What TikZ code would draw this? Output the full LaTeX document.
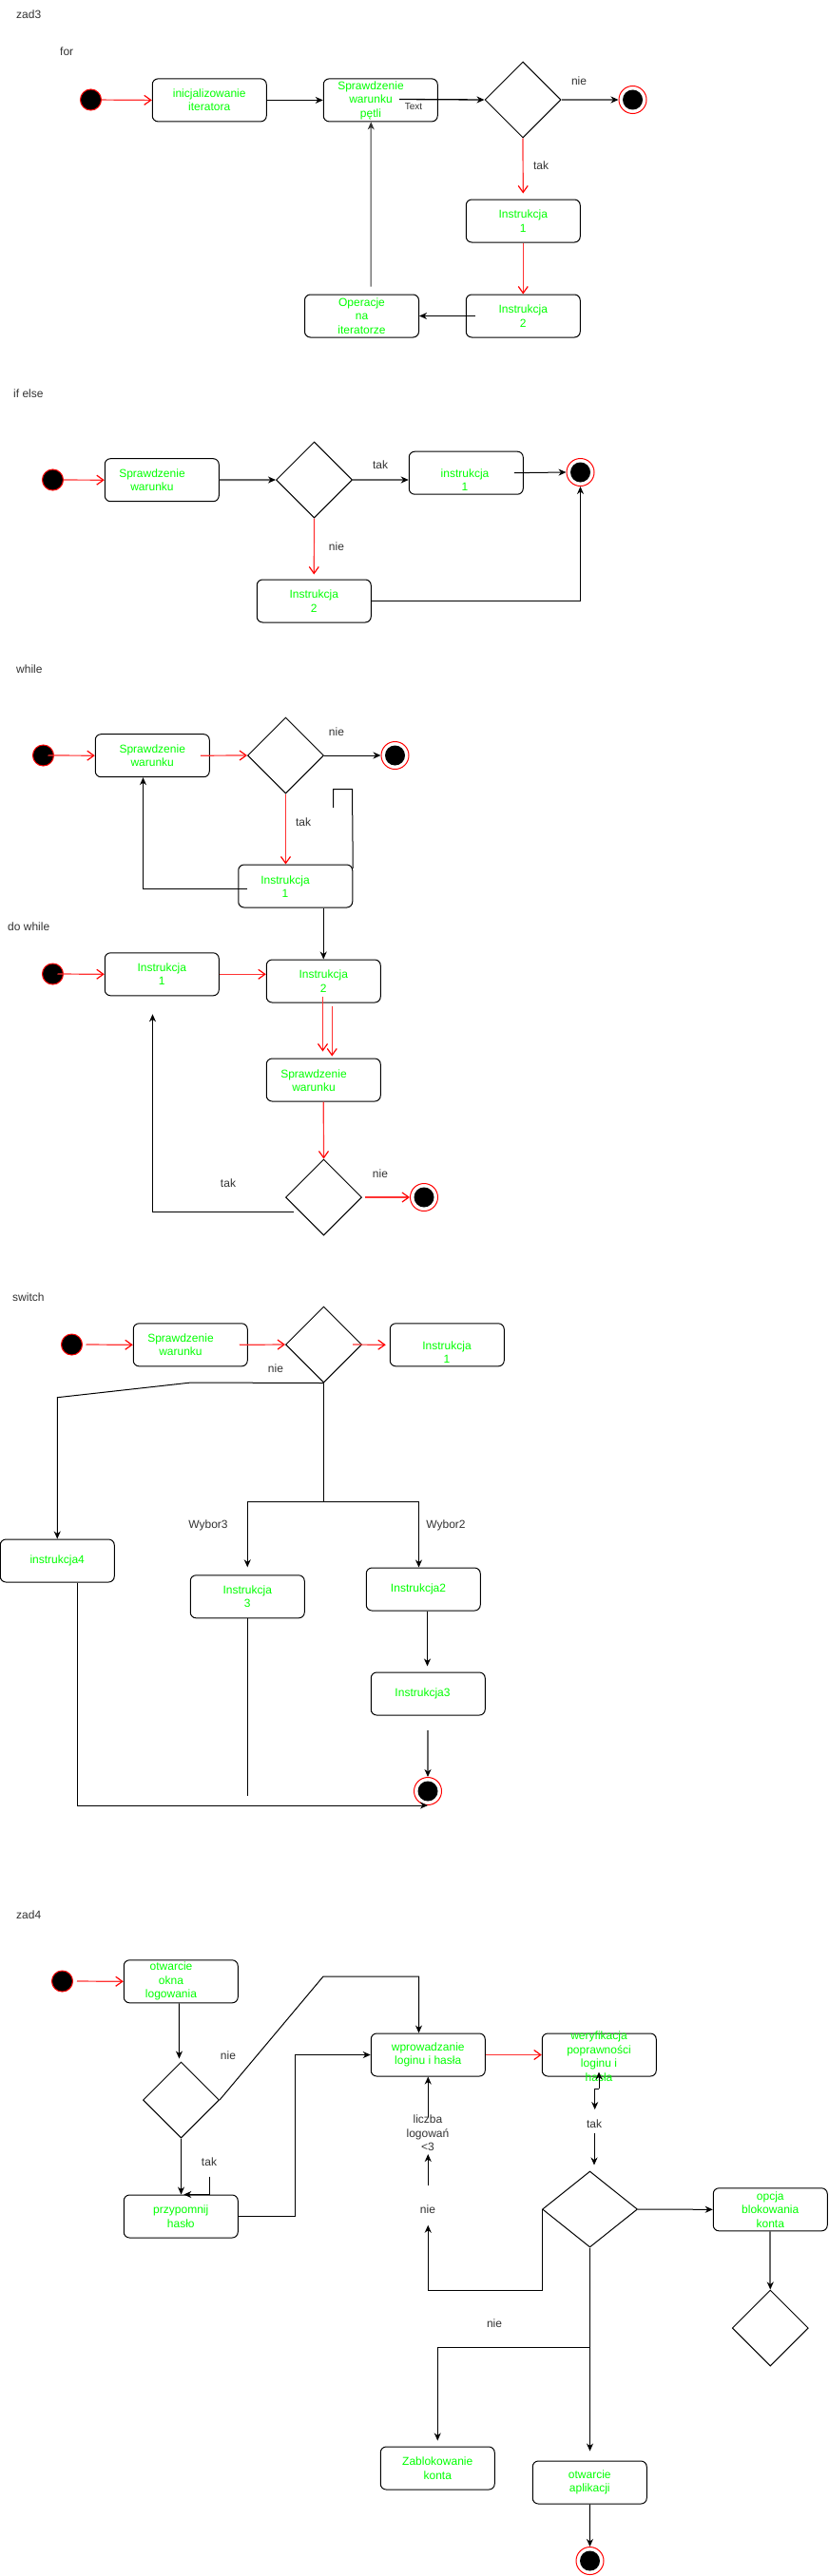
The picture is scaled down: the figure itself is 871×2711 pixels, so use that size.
\documentclass[tikz,border=0pt]{standalone}
\usepackage{fontspec}
\setmainfont{Liberation Sans}
\usetikzlibrary{arrows.meta,shapes.geometric,calc}
\definecolor{grn}{HTML}{00FF00}
\definecolor{lblc}{HTML}{333333}
\definecolor{rd}{HTML}{FF3333}
\definecolor{grl}{HTML}{666666}
\begin{document}
\begin{tikzpicture}[x=1pt,y=-1pt,
  font=\fontsize{12}{14.5}\selectfont,
  act/.style={draw=black, line width=1pt, rounded corners=6pt, minimum width=120pt, minimum height=45pt, inner sep=0pt, align=center, text=grn},
  gtxt/.style={align=center, text=grn, inner sep=0pt},
  lab/.style={text=lblc, inner sep=0pt, align=center},
  dec/.style={draw=black, line width=1pt, diamond, minimum width=80pt, minimum height=80pt, inner sep=0pt},
  startst/.style={circle, fill=black, draw=red, line width=1pt, minimum size=22pt, inner sep=0pt},
  endst/.style={circle, draw=red, line width=1pt, fill=white, minimum size=29pt, inner sep=0pt,
     path picture={\fill[black] (path picture bounding box.center) circle (10.5pt);}},
  blk/.style={draw=black, line width=1pt, -{Stealth[length=8pt,width=7pt,inset=2.5pt]}},
  garr/.style={draw=grl, line width=2pt, -{Stealth[length=8pt,width=7pt,inset=2.5pt,color=black]}},
  rarr/.style={draw=rd, line width=1.2pt, -{Straight Barb[length=7pt,width=10pt,color=red]}},
  ln/.style={draw=black, line width=1pt}
]
\fill[white] (0,0) rectangle (871,2711);
\useasboundingbox (0,0) rectangle (871,2711);

% ---------------- zad3 / for ----------------
\node[lab, anchor=west] (z3) at (17,15) {zad3};
\node[lab, anchor=west] (tfor) at (63,54) {for};
\node[startst] (s1) at (95.5,105) {};
\node[act] (a1) at (220.25,105.4) {inicjalizowanie\\iteratora};
\node[act] (a2) at (400.25,105.4) {};
\node[gtxt] (a2t) at (390,105.5) {Sprawdzenie\\warunku\\pętli};
\node[dec] (d1) at (550,105) {};
\node[endst] (e1) at (665.5,105) {};
\node[act] (a3) at (550.25,232.5) {Instrukcja\\1};
\node[act] (a4) at (550.25,332.5) {Instrukcja\\2};
\node[act] (a5) at (380.5,332.5) {Operacje\\na\\iteratorze};
\coordinate (t1) at (420,104.5);
\draw[rarr] (s1) -- (a1.west);
\draw[blk] (a1.east) -- (a2.west);
\draw[blk, line width=1.3pt] (t1) -- (d1.west);
\node[lab] (ttext) at (435,112.5) {\fontsize{10}{12}\selectfont Text};
\draw[garr] (d1.east) -- (e1.west);
\node[lab] (l1) at (609,85) {nie};
\draw[rarr, shorten >=6pt] (d1.south) -- (a3.north);
\node[lab] (l2) at (569,174) {tak};
\draw[rarr] (a3.south) -- (a4.north);
\draw[blk] ($(a4.west)+(10,0)$) -- (a5.east);
\draw[blk, draw=lblc] ($(a5.north)+(9.5,-8)$) -- ($(a2.south)+(-10,0)$);

% ---------------- if else ----------------
\node[lab, anchor=west] (zif) at (14,414) {if else};
\node[startst] (s2) at (55.5,505) {};
\node[act] (b1) at (170.25,505.2) {};
\node[gtxt] (b1t) at (160,505) {Sprawdzenie\\warunku};
\node[dec] (d2) at (330.5,505) {};
\node[act] (b2) at (490.25,497.7) {};
\node[gtxt] (b2t) at (489,505) {instrukcja\\1};
\node[endst] (e2) at (610.5,497) {};
\node[act] (b3) at (330.25,632.5) {Instrukcja\\2};
\draw[rarr] (s2) -- (b1.west);
\draw[garr] (b1.east) -- (d2.west);
\draw[garr] (d2.east) -- (d2.east -| b2.west);
\node[lab] (l3) at (400,489) {tak};
\draw[blk] ($(b2.east)+(-10,0)$) -- (e2.west);
\draw[rarr, shorten >=5pt] (d2.south) -- (b3.north);
\node[lab] (l4) at (354,575) {nie};
\draw[blk] (b3.east) -| (e2.south);

% ---------------- while ----------------
\node[lab, anchor=west] (zwh) at (17,704) {while};
\node[startst] (s3) at (45.5,795) {};
\node[act] (c1) at (160.25,795.2) {Sprawdzenie\\warunku};
\node[dec] (d3) at (300.5,795) {};
\node[endst] (e3) at (415.5,795) {};
\node[act] (c2) at (310.75,932.5) {};
\node[gtxt] (c2t) at (300,933) {Instrukcja\\1};
\draw[rarr] ($(s3.center)+(5,0)$) -- (c1.west);
\draw[rarr] ($(c1.east)+(-10,0)$) -- (d3.west);
\draw[blk] (d3.east) -- (e3.west);
\node[lab] (l5) at (354,770) {nie};
\draw[rarr] (d3.south) -- (d3.south |- c2.north);
\node[lab] (l6) at (319,865) {tak};
\draw[blk] ($(c2.west)+(10,2.5)$) -| ($(c1.south)+(-9.75,0)$);
\coordinate (w1) at (350.5,850);
\coordinate (w2) at (350.5,830.7);
\coordinate (w3) at (370.5,830.7);
\draw[ln] (w1) -- (w2) -- (w3) -- ($(c2.north east)+(0,4)$);

% ---------------- do while ----------------
\node[lab, anchor=west] (zdw) at (8,975) {do while};
\node[startst] (s4) at (55.5,1025) {};
\node[act] (f1) at (170.25,1025.3) {Instrukcja\\1};
\node[act] (f2) at (340.25,1032.5) {Instrukcja\\2};
\node[act] (f3) at (340.25,1136.5) {};
\node[gtxt] (f3t) at (330,1137) {Sprawdzenie\\warunku};
\node[dec] (d4) at (340.5,1260) {};
\node[endst] (e4) at (446,1260) {};
\draw[blk] (f2.north |- c2.south) -- (f2.north);
\draw[rarr] ($(s4.center)+(5,0)$) -- (f1.west);
\draw[rarr] (f1.east) -- (f1.east -| f2.west);
\draw[rarr] ($(f2.south)+(-0.75,-7)$) -- ($(f3.north)+(-0.75,-7)$);
\draw[rarr] ($(f2.south)+(9,3)$) -- ($(f3.north)+(9,-2)$);
\draw[rarr] (f3.south) -- (d4.north);
\node[lab] (l7) at (400,1235) {nie};
\node[lab] (l8) at (240,1245) {tak};
\draw[rarr] ($(d4.east)+(3,0)$) -- (e4.west);
\draw[blk] ($(d4.west)+(9,15)$) -| ($(f1.south)+(-9.75,19)$);

% ---------------- switch ----------------
\node[lab, anchor=west] (zsw) at (13,1365) {switch};
\node[startst] (s5) at (75.5,1415) {};
\node[act] (g1) at (200.25,1415.3) {};
\node[gtxt] (g1t) at (190,1415) {Sprawdzenie\\warunku};
\node[dec] (d5) at (340.5,1415) {};
\node[act] (g2) at (470.25,1415.3) {};
\node[gtxt] (g2t) at (470,1423) {Instrukcja\\1};
\node[act] (g4) at (60.25,1642.5) {instrukcja4};
\node[act] (g3) at (260.25,1680.3) {Instrukcja\\3};
\node[act] (g5) at (445.25,1672.5) {};
\node[gtxt] (g5t) at (440,1672.7) {Instrukcja2};
\node[act] (g6) at (450.25,1782.5) {};
\node[gtxt] (g6t) at (444.5,1782.7) {Instrukcja3};
\node[endst] (e5) at (450,1885) {};
\draw[rarr] ($(s5.east)+(3.5,0)$) -- (g1.west);
\draw[rarr] ($(g1.east)+(-9,0)$) -- (d5.west);
\draw[rarr] ($(d5.east)+(-10,0)$) -- ($(g2.west)+(-4,0)$);
\node[lab] (l9) at (290,1440) {nie};
\coordinate (k1) at (201,1455);
\coordinate (k2) at (60.25,1470.7);
\draw[blk] (d5.south) -- (k1) -- (k2) -- (g4.north);
\coordinate (k3) at (340.5,1580);
\draw[ln] (d5.south) -- (k3);
\draw[blk, shorten >=8pt] (k3) -| (g3.north);
\draw[blk] (k3) -| ($(g5.north)+(-4.75,0)$);
\node[lab] (l10) at (219,1605) {Wybor3};
\node[lab] (l11) at (469,1605) {Wybor2};
\draw[blk] ($(g5.south)+(4.25,0)$) -- ($(g6.north)+(-0.75,-6)$);
\draw[garr] ($(g6.south)+(-0.25,15)$) -- (e5.north);
\coordinate (k4) at (260.25,1890);
\draw[ln] (g3.south) -- (k4);
\coordinate (k5) at (81,1900);
\draw[blk] (k5 |- g4.south) -- (k5) -- (e5.center |- k5);

% ---------------- zad4 ----------------
\node[lab, anchor=west] (z4) at (17,2015) {zad4};
\node[startst] (s6) at (65.5,2085) {};
\node[act] (h1) at (190.25,2085.3) {};
\node[gtxt] (h1t) at (180,2085) {otwarcie\\okna\\logowania};
\node[dec] (d6) at (190.5,2210) {};
\node[act] (h2) at (450.25,2162.5) {wprowadzanie\\loginu i hasła};
\node[act] (h3) at (190.25,2332.5) {przypomnij\\hasło};
\node[act] (h4) at (630.25,2162.5) {};
\node[gtxt] (h4t) at (630,2164) {weryfikacja\\poprawności\\loginu i\\hasła};
\node[dec, minimum width=100pt] (d7) at (620.5,2325) {};
\node[act] (h5) at (810.25,2325.3) {opcja\\blokowania\\konta};
\node[dec] (d8) at (810.25,2450) {};
\node[act] (h6) at (460.25,2597.5) {Zablokowanie\\konta};
\node[act] (h7) at (620.25,2612.5) {otwarcie\\aplikacji};
\node[endst] (e6) at (620.5,2695) {};

\draw[rarr] ($(s6.east)+(4,0)$) -- (h1.west);
\draw[blk] ($(h1.south)+(-2,0)$) -- ($(d6.north)+(-2,-3)$);
\node[lab] (l12) at (240,2163) {nie};
\coordinate (m1) at (340,2080);
\draw[blk] (d6.east) -- (m1) -| ($(h2.north)+(-9.75,0)$);
\draw[blk] (d6.south) -- (d6.south |- h3.north);
\node[lab] (l13) at (220,2275) {tak};
\coordinate (m2) at (220.5,2290.7);
\draw[blk] (m2) |- ($(h3.north)+(3,0)$);
\coordinate (m3) at (310,2332.5);
\draw[blk] (h3.east) -- (m3) |- (h2.west);
\draw[rarr] (h2.east) -- (h4.west);
\coordinate (m4) at (630,2198);
\coordinate (m5) at (625.7,2220);
\draw[blk] (m4) -- ($(h4.south)+(-0.25,-5)$);
\draw[blk] (m4) -| (m5);
\node[lab] (l14) at (625,2235) {tak};
\coordinate (m6) at (625,2245);
\draw[blk, shorten >=6pt] (m6) -- (m6 |- d7.north);
\draw[blk] (d7.east) -- (h5.west);
\draw[garr] (h5.south) -- (d8.north);
\coordinate (m8) at (450.25,2410);
\coordinate (m9) at (450.25,2341.7);
\draw[blk] (d7.west) |- (m8) -- (m9);
\node[lab] (l15) at (450,2325) {nie};
\coordinate (m10) at (450.25,2300);
\coordinate (m11) at (450.25,2267);
\draw[blk] (m10) -- (m11);
\node[lab] (l16) at (450,2245) {liczba\\logowań\\<3};
\coordinate (m12) at (450.25,2228);
\draw[blk] (m12) -- (h2.south);
\node[lab] (l17) at (520,2445) {nie};
\draw[blk, shorten >=10pt] (d7.south) -- (d7.south |- h7.north);
\coordinate (m13) at (620.5,2470.7);
\draw[blk] (m13) -| ($(h6.north)+(0,-6)$);
\draw[blk] (h7.south) -- (e6.north);
\end{tikzpicture}
\end{document}
